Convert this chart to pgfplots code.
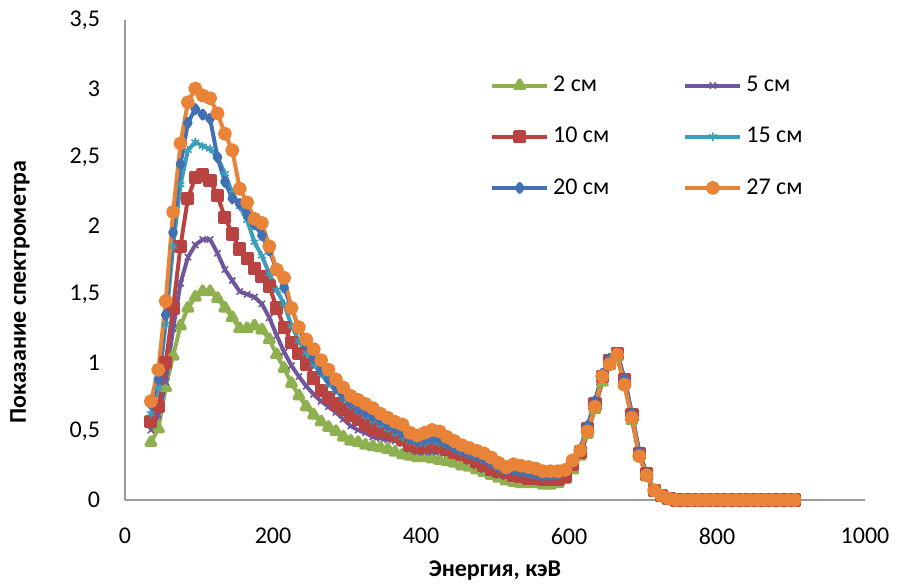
\documentclass[border=0pt]{standalone}
\usepackage{fontspec}
\setmainfont{Carlito}
\usepackage{pgfplots}
\pgfplotsset{compat=1.18}
\usepackage{pgfplotstable}
\definecolor{cg}{RGB}{143,176,78}
\definecolor{cp}{RGB}{112,86,155}
\definecolor{cr}{RGB}{185,67,64}
\definecolor{cc}{RGB}{60,158,186}
\definecolor{cb}{RGB}{65,113,178}
\definecolor{co}{RGB}{233,131,56}
\pgfplotstableread{
E g p r c b o
35 0.42 0.51 0.57 0.63 0.70 0.72
45 0.52 0.62 0.68 0.82 0.88 0.95
55 0.82 0.86 1.00 1.28 1.35 1.45
65 1.05 1.25 1.40 1.85 1.95 2.10
75 1.27 1.58 1.85 2.30 2.45 2.60
85 1.40 1.77 2.20 2.55 2.75 2.90
95 1.48 1.86 2.35 2.61 2.85 3.00
105 1.52 1.90 2.37 2.58 2.81 2.95
115 1.52 1.90 2.33 2.56 2.78 2.93
125 1.47 1.80 2.22 2.50 2.50 2.82
135 1.40 1.68 2.06 2.38 2.32 2.67
145 1.33 1.60 1.94 2.24 2.20 2.55
155 1.25 1.52 1.83 2.14 2.16 2.27
165 1.25 1.50 1.76 2.04 2.08 2.17
175 1.27 1.48 1.69 1.88 2.01 2.05
185 1.24 1.43 1.63 1.78 1.93 2.02
195 1.17 1.33 1.56 1.65 1.82 1.85
205 1.06 1.20 1.40 1.53 1.68 1.68
215 0.96 1.08 1.26 1.43 1.55 1.62
225 0.85 0.98 1.15 1.27 1.40 1.40
235 0.76 0.90 1.07 1.16 1.25 1.26
245 0.68 0.83 0.99 1.07 1.13 1.17
255 0.62 0.77 0.89 0.99 1.03 1.10
265 0.57 0.72 0.80 0.92 0.95 1.02
275 0.53 0.68 0.75 0.85 0.88 0.95
285 0.50 0.64 0.70 0.80 0.82 0.88
295 0.46 0.59 0.66 0.74 0.76 0.82
305 0.43 0.54 0.62 0.69 0.71 0.76
315 0.42 0.51 0.59 0.65 0.67 0.73
325 0.40 0.49 0.55 0.61 0.64 0.70
335 0.39 0.46 0.52 0.58 0.61 0.67
345 0.38 0.45 0.50 0.55 0.58 0.63
355 0.37 0.44 0.49 0.52 0.55 0.60
365 0.35 0.43 0.47 0.49 0.52 0.57
375 0.33 0.41 0.44 0.46 0.49 0.55
385 0.32 0.37 0.40 0.43 0.45 0.49
395 0.31 0.35 0.38 0.41 0.43 0.47
405 0.31 0.35 0.39 0.42 0.44 0.49
415 0.30 0.35 0.40 0.43 0.45 0.51
425 0.29 0.35 0.39 0.42 0.44 0.50
435 0.28 0.34 0.37 0.40 0.41 0.46
445 0.27 0.33 0.35 0.37 0.38 0.43
455 0.25 0.31 0.33 0.35 0.36 0.40
465 0.24 0.28 0.31 0.33 0.34 0.38
475 0.22 0.25 0.28 0.31 0.32 0.36
485 0.20 0.22 0.25 0.29 0.30 0.34
495 0.18 0.20 0.22 0.26 0.27 0.31
505 0.16 0.18 0.21 0.23 0.24 0.27
515 0.14 0.17 0.20 0.21 0.22 0.24
525 0.13 0.17 0.18 0.21 0.22 0.26
535 0.12 0.16 0.17 0.20 0.21 0.25
545 0.12 0.15 0.16 0.19 0.20 0.24
555 0.12 0.14 0.16 0.18 0.19 0.23
565 0.11 0.13 0.15 0.17 0.18 0.21
575 0.11 0.13 0.15 0.17 0.18 0.21
585 0.12 0.14 0.15 0.18 0.19 0.21
595 0.15 0.16 0.17 0.21 0.22 0.22
605 0.22 0.24 0.26 0.27 0.28 0.29
615 0.32 0.33 0.35 0.36 0.37 0.36
625 0.48 0.50 0.52 0.52 0.54 0.50
635 0.66 0.68 0.70 0.70 0.72 0.68
645 0.86 0.88 0.90 0.90 0.92 0.90
655 0.98 1.00 1.02 1.02 1.03 0.99
665 1.04 1.06 1.07 1.07 1.07 1.06
675 0.84 0.86 0.88 0.88 0.88 0.84
685 0.58 0.60 0.62 0.62 0.63 0.60
695 0.32 0.33 0.34 0.34 0.35 0.32
705 0.17 0.18 0.19 0.19 0.19 0.18
715 0.07 0.07 0.07 0.07 0.07 0.07
725 0.02 0.02 0.03 0.03 0.03 0.03
735 0.01 0.01 0.01 0.01 0.01 0.01
745 0 0 0 0 0 0
755 0 0 0 0 0 0
765 0 0 0 0 0 0
775 0 0 0 0 0 0
785 0 0 0 0 0 0
795 0 0 0 0 0 0
805 0 0 0 0 0 0
815 0 0 0 0 0 0
825 0 0 0 0 0 0
835 0 0 0 0 0 0
845 0 0 0 0 0 0
855 0 0 0 0 0 0
865 0 0 0 0 0 0
875 0 0 0 0 0 0
885 0 0 0 0 0 0
895 0 0 0 0 0 0
905 0 0 0 0 0 0
}\data
\begin{document}
\begin{tikzpicture}
\path[use as bounding box] (-62.5pt,-42pt) rectangle (390pt,250pt);
\begin{axis}[
  scale only axis, width=370pt, height=240pt,
  xmin=0, xmax=1000, ymin=0, ymax=3.5,
  xtick={0,200,400,600,800,1000},
  ytick={0,0.5,1,1.5,2,2.5,3,3.5},
  axis lines*=left,
  axis line style={draw=black!40, line width=0.9pt},
  major tick length=0pt,
  tick label style={font=\fontsize{12}{14}\selectfont},
  /pgf/number format/use comma,
  /pgf/number format/1000 sep={},
  /pgf/number format/assume math mode=true,
  yticklabel style={xshift=-9pt},
  xticklabel style={yshift=-10.5pt},
  xlabel={Энергия, кэВ},
  ylabel={Показание спектрометра},
  label style={font=\bfseries\fontsize{12}{14}\selectfont},
  xlabel style={at={(axis description cs:0.5,-0.146)}, anchor=center},
  ylabel style={at={(axis description cs:-0.142,0.433)}, anchor=center},
  clip=false,
  line join=round,
  legend columns=2,
  legend cell align=left,
  legend style={at={(axis description cs:0.493,0.892)}, anchor=north west,
    draw=none, fill=none, inner sep=0pt, row sep=12.3pt,
    font=\fontsize{12}{14}\selectfont,
    /tikz/every even column/.append style={column sep=35pt}},
  legend image code/.code={\draw[mark repeat=2,mark phase=2,#1] plot coordinates {(0pt,0pt)(13.75pt,0pt)(27.5pt,0pt)};},
]
\addplot[color=cg, line width=2pt, mark=triangle*, mark size=2.6pt, mark options={solid}] table[x=E,y=g] {\data};
\addlegendentry{2 см}
\addplot[color=cp, line width=2pt, mark=x, mark size=2.2pt, mark options={solid, line width=0.8pt}] table[x=E,y=p] {\data};
\addlegendentry{5 см}
\addplot[color=cr, line width=2pt, mark=square*, mark size=2.3pt, mark options={solid}] table[x=E,y=r] {\data};
\addlegendentry{10 см}
\addplot[color=cc, line width=2pt, mark=asterisk, mark size=2.2pt, mark options={solid, line width=0.8pt}] table[x=E,y=c] {\data};
\addlegendentry{15 см}
\addplot[color=cb, line width=2pt, mark=diamond*, mark size=2pt, mark options={solid}] table[x=E,y=b] {\data};
\addlegendentry{20 см}
\addplot[color=co, line width=2pt, mark=*, mark size=2.5pt, mark options={solid}] table[x=E,y=o] {\data};
\addlegendentry{27 см}
\end{axis}
\end{tikzpicture}
\end{document}
